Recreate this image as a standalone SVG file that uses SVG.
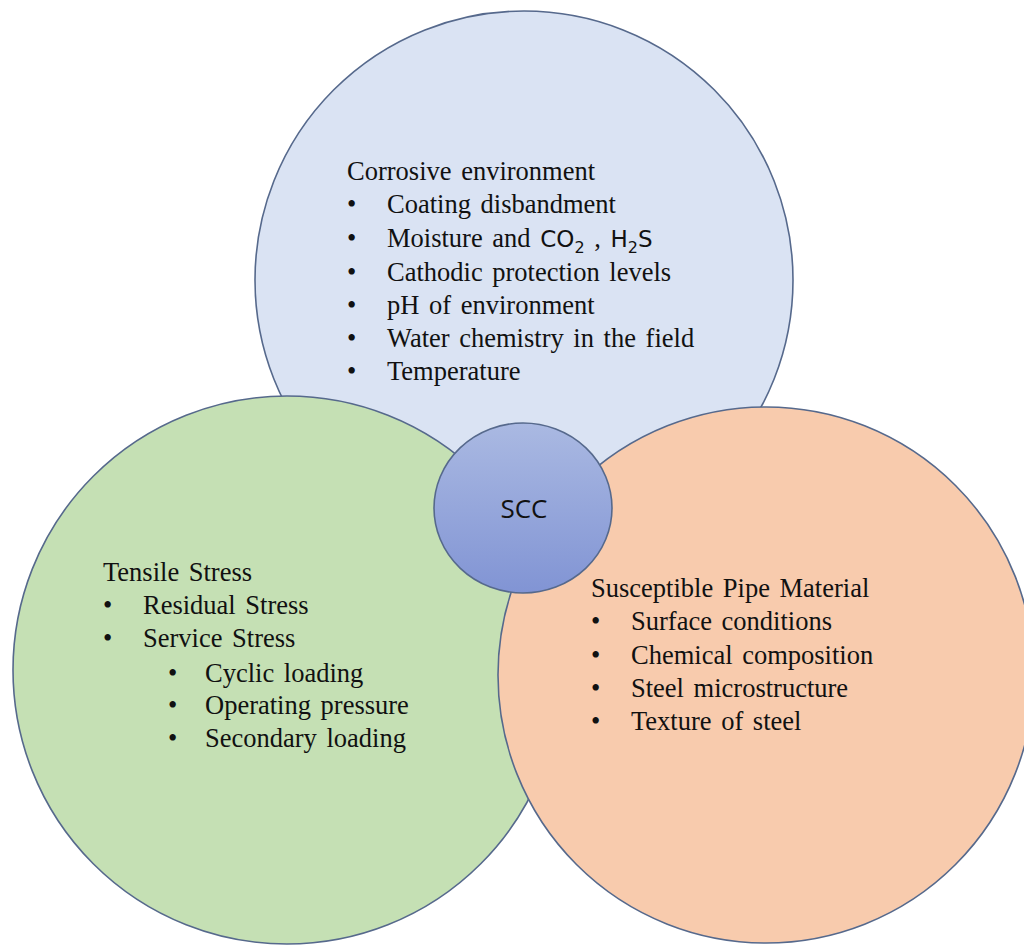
<svg xmlns="http://www.w3.org/2000/svg" width="1024" height="947" viewBox="0 0 1024 947">
<defs>
<linearGradient id="sccGrad" x1="0" y1="0" x2="0" y2="1">
<stop offset="0" stop-color="#aab9e2"/>
<stop offset="1" stop-color="#8194d4"/>
</linearGradient>
<style>
.c{stroke:#56698c;stroke-width:1.6}
.t{font-family:"Liberation Serif","Times New Roman",serif;font-size:26.5px;fill:#111;word-spacing:3px}
.m{font-family:"DejaVu Sans","Liberation Sans",sans-serif;font-size:23px}
.sub{font-family:"DejaVu Sans","Liberation Sans",sans-serif;font-size:16px}
.s{font-family:"Open Sans","Liberation Sans",sans-serif;font-size:26px;fill:#111}
</style>
</defs>
<rect width="1024" height="947" fill="#ffffff"/>
<g id="corrosive">
<circle class="c" cx="524" cy="280" r="269" fill="#dae3f3"/>
<text class="t" x="347" y="180">Corrosive environment</text>
<text class="t" x="347" y="213">•</text><text class="t" x="387" y="213">Coating disbandment</text>
<text class="t" x="347" y="247">•</text><text class="t" x="387" y="247">Moisture and <tspan class="m">CO</tspan><tspan class="sub" dy="6">2</tspan><tspan dy="-6"> , </tspan><tspan class="m">H</tspan><tspan class="sub" dy="6">2</tspan><tspan class="m" dy="-6">S</tspan></text>
<text class="t" x="347" y="281">•</text><text class="t" x="387" y="281">Cathodic protection levels</text>
<text class="t" x="347" y="314">•</text><text class="t" x="387" y="314">pH of environment</text>
<text class="t" x="347" y="347">•</text><text class="t" x="387" y="347">Water chemistry in the field</text>
<text class="t" x="347" y="380">•</text><text class="t" x="387" y="380">Temperature</text>
</g>
<g id="tensile">
<circle class="c" cx="287" cy="670" r="274" fill="#c5e0b4"/>
<text class="t" x="103" y="581">Tensile Stress</text>
<text class="t" x="103" y="614">•</text><text class="t" x="143" y="614">Residual Stress</text>
<text class="t" x="103" y="647">•</text><text class="t" x="143" y="647">Service Stress</text>
<text class="t" x="168" y="682">•</text><text class="t" x="205" y="682">Cyclic loading</text>
<text class="t" x="168" y="714">•</text><text class="t" x="205" y="714">Operating pressure</text>
<text class="t" x="168" y="747">•</text><text class="t" x="205" y="747">Secondary loading</text>
</g>
<g id="material">
<circle class="c" cx="766" cy="675" r="268" fill="#f8cbad"/>
<text class="t" x="591" y="597">Susceptible Pipe Material</text>
<text class="t" x="591" y="630">•</text><text class="t" x="631" y="630">Surface conditions</text>
<text class="t" x="591" y="664">•</text><text class="t" x="631" y="664">Chemical composition</text>
<text class="t" x="591" y="697">•</text><text class="t" x="631" y="697">Steel microstructure</text>
<text class="t" x="591" y="730">•</text><text class="t" x="631" y="730">Texture of steel</text>
</g>
<g id="scc">
<ellipse class="c" cx="523" cy="508" rx="89" ry="85" fill="url(#sccGrad)"/>
<text class="s" x="524" y="518" text-anchor="middle">SCC</text>
</g>
<g id="connectors"/>
</svg>
